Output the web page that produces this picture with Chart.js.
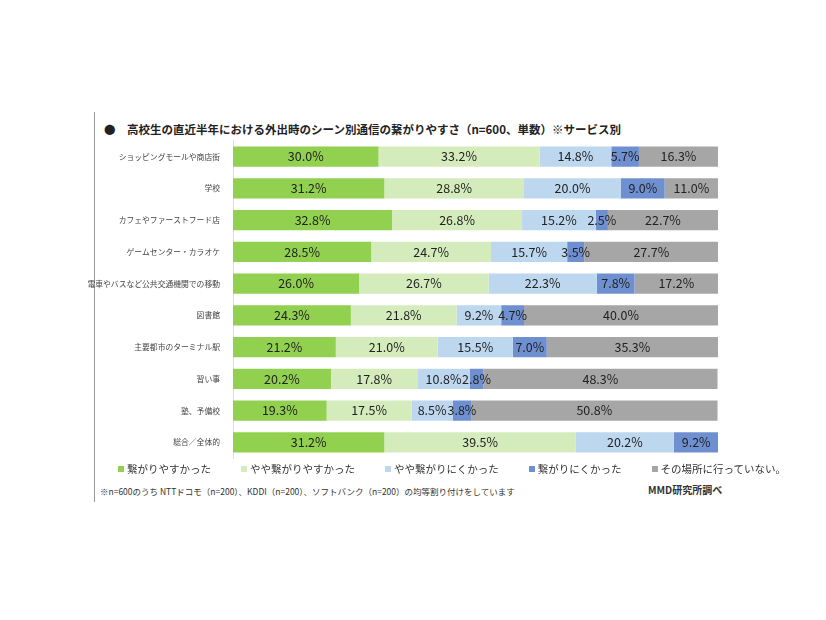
<!DOCTYPE html>
<html><head><meta charset="utf-8">
<script src="https://cdn.jsdelivr.net/npm/chart.js@4"></script>
<style>
body{margin:0;background:#fff;font-family:"Noto Sans CJK JP",sans-serif;}
#wrap{position:absolute;left:0;top:0;width:826px;height:620px;}
#vline{position:absolute;left:94px;top:112px;width:1px;height:390px;background:#999;}
#title{position:absolute;left:104px;top:121px;font-size:11.5px;font-weight:bold;color:#222;}
#box{position:absolute;left:84px;top:131px;width:642px;height:337px;}
#legend{position:absolute;left:118px;top:461px;font-size:10.5px;color:#333;white-space:nowrap;}
#legend span{display:inline-block;margin-right:30px;}
#legend i{display:inline-block;width:6px;height:6px;margin-right:3px;vertical-align:1px;}
#note{position:absolute;left:100px;top:485px;font-size:8.5px;color:#333;}
#src{position:absolute;left:648px;top:482px;font-size:10px;font-weight:bold;color:#333;}
</style></head><body><div id="wrap">
<div id="vline"></div>
<div id="title">●　高校生の直近半年における外出時のシーン別通信の繋がりやすさ（n=600、単数）※サービス別</div>
<div id="box"><canvas id="c"></canvas></div>
<div id="legend"></div>
<div id="note">※n=600のうち NTTドコモ（n=200）、KDDI（n=200）、ソフトバンク（n=200）の均等割り付けをしています</div>
<div id="src">MMD研究所調べ</div>
</div>
<script>
const categories = ['ショッピングモールや商店街','学校','カフェやファーストフード店','ゲームセンター・カラオケ','電車やバスなど公共交通機関での移動','図書館','主要都市のターミナル駅','習い事','塾、予備校','総合／全体的'];
const seriesNames = ['繋がりやすかった','やや繋がりやすかった','やや繋がりにくかった','繋がりにくかった','その場所に行っていない。'];
const s1 = [30.0,31.2,32.8,28.5,26.0,24.3,21.2,20.2,19.3,31.2];
const s2 = [33.2,28.8,26.8,24.7,26.7,21.8,21.0,17.8,17.5,39.5];
const s3 = [14.8,20.0,15.2,15.7,22.3,9.2,15.5,10.8,8.5,20.2];
const s4 = [5.7,9.0,2.5,3.5,7.8,4.7,7.0,2.8,3.8,9.2];
const s5 = [16.3,11.0,22.7,27.7,17.2,40.0,35.3,48.3,50.8,0];
const colors = ['#92d050','#d4ecbc','#bdd7ee','#6f90d0','#a6a6a6'];

document.getElementById('legend').innerHTML = seriesNames.map((n, i) =>
  '<span><i style="background:' + colors[i] + '"></i>' + n + '</span>').join('');

const labelPlugin = {
  id: 'vals',
  afterDatasetsDraw(chart) {
    const ctx = chart.ctx;
    ctx.save();
    ctx.font = '12.5px "Noto Sans CJK JP", sans-serif';
    ctx.fillStyle = '#222';
    ctx.textAlign = 'center';
    ctx.textBaseline = 'middle';
    chart.data.datasets.forEach((ds, i) => {
      chart.getDatasetMeta(i).data.forEach((bar, j) => {
        const v = ds.data[j];
        if (!v) return;
        ctx.fillText(v.toFixed(1) + '%', (bar.x + bar.base) / 2, bar.y);
      });
    });
    ctx.restore();
  }
};

new Chart(document.getElementById('c'), {
  type: 'bar',
  data: {
    labels: categories,
    datasets: [s1, s2, s3, s4, s5].map((d, i) => ({
      label: seriesNames[i], data: d, backgroundColor: colors[i],
      barPercentage: 0.64, categoryPercentage: 1
    }))
  },
  options: {
    indexAxis: 'y', responsive: true, maintainAspectRatio: false, animation: false,
    layout: { padding: { right: 8 } },
    plugins: { legend: { display: false }, tooltip: { enabled: false } },
    scales: {
      x: { stacked: true, min: 0, max: 100, display: false },
      y: { stacked: true, grid: { display: false }, border: { color: '#ddd' },
        afterFit: s => { s.width = 149; },
        ticks: { color: '#444', padding: 5, font: { size: 7.8, family: '"Noto Sans CJK JP", sans-serif' } } }
    }
  },
  plugins: [labelPlugin]
});
</script></body></html>
